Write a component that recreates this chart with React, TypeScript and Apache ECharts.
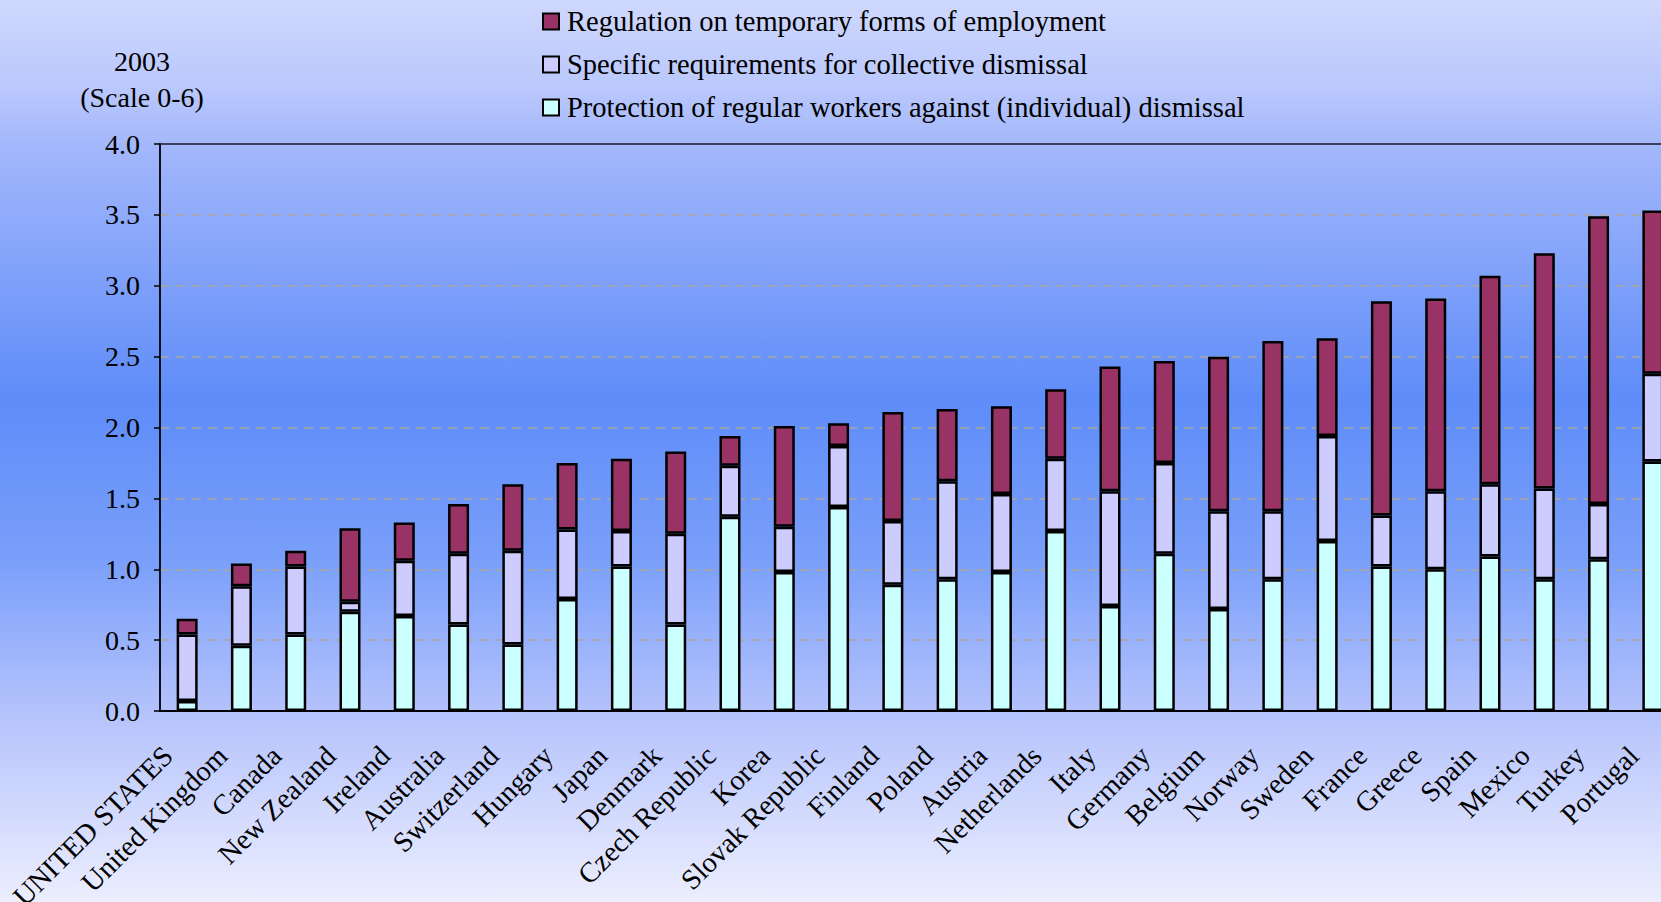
import React, { useEffect, useRef } from "react";
import * as echarts from "echarts";

const countries = [
  "UNITED STATES", "United Kingdom", "Canada", "New Zealand", "Ireland", "Australia",
  "Switzerland", "Hungary", "Japan", "Denmark", "Czech Republic", "Korea",
  "Slovak Republic", "Finland", "Poland", "Austria", "Netherlands", "Italy",
  "Germany", "Belgium", "Norway", "Sweden", "France", "Greece", "Spain",
  "Mexico", "Turkey", "Portugal",
];

// Protection of regular workers against (individual) dismissal
const regular = [
  0.07, 0.46, 0.54, 0.70, 0.67, 0.61, 0.47, 0.79, 1.02, 0.61, 1.37, 0.98,
  1.44, 0.89, 0.93, 0.98, 1.27, 0.74, 1.11, 0.72, 0.93, 1.20, 1.02, 1.00,
  1.09, 0.93, 1.07, 1.76,
];
// Specific requirements for collective dismissal
const collective = [
  0.47, 0.42, 0.48, 0.07, 0.39, 0.50, 0.66, 0.49, 0.25, 0.64, 0.36, 0.32,
  0.43, 0.45, 0.69, 0.55, 0.51, 0.81, 0.64, 0.69, 0.48, 0.74, 0.36, 0.55,
  0.51, 0.64, 0.39, 0.62,
];
// Regulation on temporary forms of employment
const temporary = [
  0.11, 0.16, 0.11, 0.52, 0.27, 0.35, 0.47, 0.47, 0.51, 0.58, 0.21, 0.71,
  0.16, 0.77, 0.51, 0.62, 0.49, 0.88, 0.72, 1.09, 1.20, 0.69, 1.51, 1.36,
  1.47, 1.66, 2.03, 1.15,
];

const seriesNames = {
  temporary: "Regulation on temporary forms of employment",
  collective: "Specific requirements for collective dismissal",
  regular: "Protection of regular workers against (individual) dismissal",
};

const yTitle = ["2003", "(Scale 0-6)"];

const FONT = "'Liberation Serif', 'Times New Roman', serif";

export default function App() {
  const ref = useRef<HTMLDivElement>(null);

  useEffect(() => {
    if (!ref.current) return;
    const chart = echarts.init(ref.current, null, { renderer: "svg" });
    const barStyle = (color: string) => ({
      color,
      borderColor: "#000",
      borderWidth: 2.5,
    });
    chart.setOption({
      animation: false,
      backgroundColor: "transparent",
      textStyle: { fontFamily: FONT },
      grid: {
        left: 160,
        right: 20,
        top: 144,
        bottom: 191,
        containLabel: false,
        outerBoundsMode: "none",
        show: true,
        borderColor: "#1a1a2a",
        borderWidth: 1.5,
        backgroundColor: "transparent",
      },
      legend: {
        orient: "vertical",
        left: 537,
        top: 1,
        itemWidth: 16,
        itemHeight: 16,
        itemGap: 12,
        icon: "rect",
        data: [seriesNames.temporary, seriesNames.collective, seriesNames.regular],
        itemStyle: { borderColor: "#000", borderWidth: 2 },
        textStyle: {
          fontFamily: FONT,
          fontSize: 28.5,
          color: "#000",
          lineHeight: 31,
          padding: [0, 0, 0, 3],
        },
      },
      graphic: yTitle.map((t, i) => ({
        type: "text",
        x: 142,
        y: 61 + i * 36,
        style: {
          text: t,
          fontFamily: FONT,
          fontSize: 28,
          fill: "#000",
          textAlign: "center",
          textVerticalAlign: "middle",
        },
      })),
      xAxis: {
        type: "category",
        data: countries,
        axisLine: { show: true, lineStyle: { color: "#000", width: 2 } },
        axisTick: { show: false },
        axisLabel: {
          interval: 0,
          rotate: 45,
          margin: 21,
          padding: [0, 27, 0, 0],
          fontFamily: FONT,
          fontSize: 28.5,
          color: "#000",
        },
      },
      yAxis: {
        type: "value",
        min: 0,
        max: 4,
        interval: 0.5,
        axisLine: { show: true, lineStyle: { color: "#000", width: 1.5 } },
        axisTick: { show: true, length: 6, lineStyle: { color: "#000", width: 1.5 } },
        axisLabel: {
          margin: 20,
          fontFamily: FONT,
          fontSize: 28,
          color: "#000",
          formatter: (v: number) => v.toFixed(1),
        },
        splitLine: {
          show: true,
          lineStyle: {
            type: [9, 7],
            width: 1.5,
            color: [
              "transparent", "#aaa79f", "#aaa79f", "#aaa79f", "#aaa79f",
              "#aaa79f", "#aaa79f", "#aaa79f", "transparent",
            ],
          },
        },
      },
      series: [
        {
          name: seriesNames.regular,
          type: "bar",
          stack: "epl",
          barWidth: 21,
          data: regular,
          itemStyle: barStyle("#ccffff"),
        },
        {
          name: seriesNames.collective,
          type: "bar",
          stack: "epl",
          barWidth: 21,
          data: collective,
          itemStyle: barStyle("#ccccff"),
        },
        {
          name: seriesNames.temporary,
          type: "bar",
          stack: "epl",
          barWidth: 21,
          data: temporary,
          itemStyle: barStyle("#993366"),
        },
      ],
    });
    return () => chart.dispose();
  }, []);

  return (
    <div
      style={{
        position: "fixed",
        left: 0,
        top: 0,
        width: 1661,
        height: 902,
        overflow: "hidden",
        background:
          "linear-gradient(to bottom, #cfd8fd 0px, #b9c7fc 90px, #a3b7fb 145px, #5e8cf9 400px, #7a9ffa 560px, #b4c2fc 710px, #eceefe 902px)",
      }}
    >
      <div ref={ref} style={{ width: 1700, height: 902 }} />
    </div>
  );
}
